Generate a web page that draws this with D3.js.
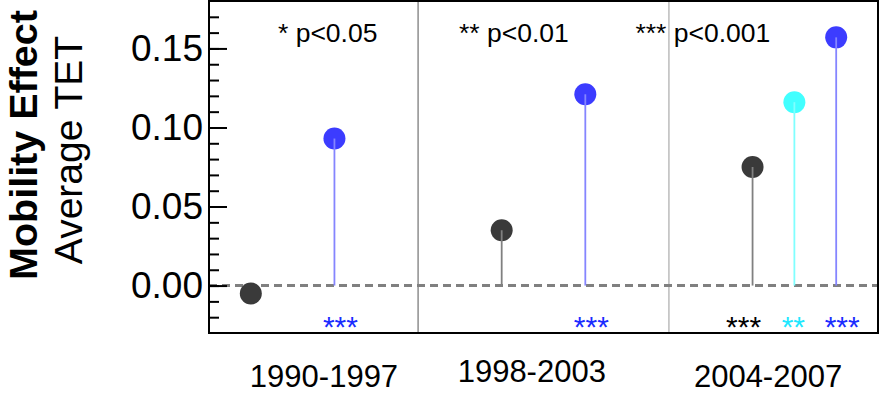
<!DOCTYPE html>
<html>
<head>
<meta charset="utf-8">
<script src="https://cdn.jsdelivr.net/npm/d3@7"></script>
<style>
  body { margin: 0; background: #fff; }
  text { font-family: "Liberation Sans", Arial, sans-serif; }
</style>
</head>
<body>
<script>
// periods shown along the bottom
const periods = ["1990-1997", "1998-2003", "2004-2007"];
// series values per period (null = not shown)
const grayValues = [-0.005, 0.035, 0.075];
const cyanValues = [null, null, 0.116];
const blueValues = [0.093, 0.121, 0.157];
// significance stars per period
const grayStars = ["", "", "***"];
const cyanStars = ["", "", "**"];
const blueStars = ["***", "***", "***"];
// legend for significance
const legendLabels = ["* p<0.05", "** p<0.01", "*** p<0.001"];
const yTicks = [0, 0.05, 0.10, 0.15];

const width = 885, height = 397;
const margin = { top: 1, right: 7, bottom: 64, left: 209 };

const svg = d3.select("body").append("svg")
    .attr("width", width)
    .attr("height", height);

const x = d3.scaleLinear().domain([0, 16]).range([margin.left, width - margin.right]);
const y = d3.scaleLinear().domain([-0.03, 0.18]).range([height - margin.bottom, margin.top]);

// series setup
const series = [
    { values: grayValues, stars: grayStars, dot: "#3a3a3a", stem: "#808080", star: "#000000", offset: 1, starDx: -9 },
    { values: cyanValues, stars: cyanStars, dot: "#42ffff", stem: "#80ffff", star: "#20e8ff", offset: 2, starDx: -1 },
    { values: blueValues, stars: blueStars, dot: "#3c3cff", stem: "#8585ff", star: "#1a2cff", offset: 3, starDx: 6 }
];
const pos = (p, s) => p * 6 + s.offset;

// vertical separators between periods
svg.append("g").selectAll("line")
    .data(periods.slice(1))
    .join("line")
    .attr("x1", (d, i) => x(i * 6 + 5))
    .attr("x2", (d, i) => x(i * 6 + 5))
    .attr("y1", y.range()[1])
    .attr("y2", y.range()[0])
    .attr("stroke", (d, i) => i === 0 ? "#555" : "#999")
    .attr("stroke-width", 1);

// zero line
svg.append("line")
    .attr("x1", x(0)).attr("x2", x(16))
    .attr("y1", y(0)).attr("y2", y(0))
    .attr("stroke", "#808080")
    .attr("stroke-width", 3)
    .attr("stroke-dasharray", "8,5");

// dots then stems
series.forEach(s => {
    const pts = s.values.map((v, p) => ({ v, p })).filter(d => d.v !== null);
    svg.append("g").selectAll("circle")
        .data(pts)
        .join("circle")
        .attr("cx", d => x(pos(d.p, s)))
        .attr("cy", d => y(d.v))
        .attr("r", 11)
        .attr("fill", s.dot);
    svg.append("g").selectAll("line")
        .data(pts.filter(d => d.v > 0))
        .join("line")
        .attr("x1", d => x(pos(d.p, s)))
        .attr("x2", d => x(pos(d.p, s)))
        .attr("y1", y(0))
        .attr("y2", d => y(d.v))
        .attr("stroke", s.stem)
        .attr("stroke-width", 1.8);
    svg.append("g").selectAll("text")
        .data(s.stars.map((t, p) => ({ t, p })).filter(d => d.t))
        .join("text")
        .attr("x", d => x(pos(d.p, s)) + s.starDx)
        .attr("y", y(-0.02))
        .attr("dy", "0.65em")
        .attr("text-anchor", "middle")
        .attr("font-size", 30)
        .attr("fill", s.star)
        .text(d => d.t);
});

// legend labels at the top
const legendPos = [1.65, 5.98, 10.2];
svg.append("g").selectAll("text")
    .data(legendLabels)
    .join("text")
    .attr("x", (d, i) => x(legendPos[i]))
    .attr("y", 42)
    .attr("font-size", 26.5)
    .text(d => d);

// y axis with major and minor ticks pointing inward
svg.append("g")
    .attr("transform", `translate(${x(0)},0)`)
    .call(d3.axisRight(y).tickValues(d3.range(-0.02, 0.175, 0.01)).tickSize(10).tickFormat(""))
    .call(g => g.select(".domain").remove())
    .call(g => g.selectAll("line").attr("stroke", "#000").attr("stroke-width", 2));
svg.append("g")
    .attr("transform", `translate(${x(0)},0)`)
    .call(d3.axisRight(y).tickValues(yTicks).tickSize(18).tickFormat(d3.format(".2f")))
    .call(g => g.select(".domain").remove())
    .call(g => g.selectAll("line").attr("stroke", "#000").attr("stroke-width", 2))
    .call(g => g.selectAll("text")
        .attr("x", -6)
        .attr("text-anchor", "end")
        .attr("font-size", 37)
        .attr("font-family", "Liberation Sans, Arial, sans-serif")
        .attr("fill", "#000"));

// frame
svg.append("rect")
    .attr("x", x(0)).attr("y", y.range()[1])
    .attr("width", x(16) - x(0))
    .attr("height", y.range()[0] - y.range()[1])
    .attr("fill", "none")
    .attr("stroke", "#000")
    .attr("stroke-width", 2);

// period labels
const labelPos = [2.75, 7.72, 13.37];
const labelY = [387, 382, 387];
svg.append("g").selectAll("text")
    .data(periods)
    .join("text")
    .attr("x", (d, i) => x(labelPos[i]))
    .attr("y", (d, i) => labelY[i])
    .attr("text-anchor", "middle")
    .attr("font-size", 31)
    .text(d => d);

// y axis title
svg.append("text")
    .attr("transform", "translate(37,145) rotate(-90)")
    .attr("text-anchor", "middle")
    .attr("font-size", 39.5)
    .attr("font-weight", "bold")
    .text("Mobility Effect");
svg.append("text")
    .attr("transform", "translate(82,150) rotate(-90)")
    .attr("text-anchor", "middle")
    .attr("font-size", 39)
    .text("Average TET");
</script>
</body>
</html>
